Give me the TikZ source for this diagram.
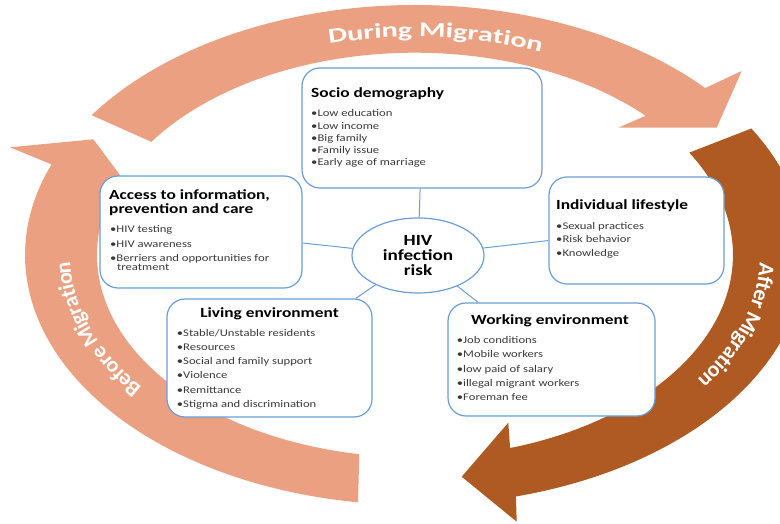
\documentclass[tikz,border=0pt]{standalone}
\usepackage{fontspec}
\setmainfont{Carlito}[FakeStretch=1.24]
\newfontfamily\arcTop{Carlito}[FakeStretch=1.45]
\newfontfamily\arcSide{Carlito}
\usetikzlibrary{shapes.geometric,decorations.text}
\definecolor{salmon}{HTML}{EBA181}
\definecolor{rust}{HTML}{AE5A22}
\definecolor{boxblue}{HTML}{6A9ED6}
\definecolor{itemgray}{HTML}{3A3A3A}
\begin{document}
\begin{tikzpicture}[x=1pt,y=1pt,
 box/.style={draw=boxblue,line width=1.2pt,fill=white,rounded corners=18pt,inner sep=0pt},
 hivnode/.style={ellipse,draw=boxblue,line width=1.2pt,fill=white,inner sep=0pt,minimum width=132pt,minimum height=75pt,align=center,font=\fontsize{15.5}{15}\selectfont\bfseries},
 ttl/.style={font=\fontsize{14}{14}\selectfont\bfseries,text=black,inner sep=0pt,anchor=base west},
 itm/.style={font=\fontsize{10.2}{10.2}\selectfont,text=itemgray,inner sep=0pt,anchor=base west},
 link/.style={draw=boxblue,line width=1pt},
 arctext/.style={decorate,decoration={text along path,text align=center,raise=#1}}]

\useasboundingbox (0,0) rectangle (780,523);
\clip (0,0) rectangle (780,523);

% During Migration (top)
\fill[salmon] ({415+390*cos(146)},{268+250*sin(146)})
  arc[start angle=146,end angle=41.9,x radius=390pt,y radius=250pt]
  -- (741.7,452) -- (716.7,395.3) -- (618.3,395.3)
  -- ({415+318*cos(43.5)},{268+202.3*sin(43.5)})
  arc[start angle=43.5,end angle=146,x radius=318pt,y radius=202.3pt] -- cycle;

% After Migration (right)
\fill[rust] ({415+390*cos(30.4)},{268+250*sin(30.4)})
  arc[start angle=30.4,end angle=-75,x radius=390pt,y radius=250pt]
  -- (516.7,1.3) -- (461.7,46.3) -- (508.3,100.3)
  -- ({415+318*cos(-72.6)},{268+202.3*sin(-72.6)})
  arc[start angle=-72.6,end angle=30.4,x radius=318pt,y radius=202.3pt] -- cycle;

% Before Migration (left)
\fill[salmon] ({415+390*cos(261.6)},{268+250*sin(261.6)})
  arc[start angle=261.6,end angle=158.75,x radius=390pt,y radius=250pt]
  -- (10,375.7) -- (93.3,383.7) -- (150,308)
  -- ({415+318*cos(158)},{268+202.3*sin(158)})
  arc[start angle=158,end angle=259.9,x radius=318pt,y radius=202.3pt] -- cycle;

% arc labels
\path[arctext=-8pt,decoration={text color=white,text={|\arcTop\bfseries\fontsize{21}{21}\selectfont|During Migration}}]
  ({415+354*cos(126.1)},{268+226*sin(126.1)}) arc[start angle=126.1,end angle=46.1,x radius=354pt,y radius=226pt];
\path[arctext=-9pt,decoration={text color=white,text={|\arcSide\bfseries\fontsize{22}{22}\selectfont|After Migration}}]
  ({415+354*cos(24)},{268+226*sin(24)}) arc[start angle=24,end angle=-56,x radius=354pt,y radius=226pt];
\path[arctext=-9pt,decoration={text color=white,text={|\arcSide\bfseries\fontsize{22}{22}\selectfont|Before Migration}}]
  ({415+354*cos(238)},{268+226*sin(238)}) arc[start angle=238,end angle=156,x radius=354pt,y radius=226pt];

% boxes
\node[box,minimum width=240pt,minimum height=120pt] (socio) at (422,395) {};
\node[box,minimum width=202pt,minimum height=112pt] (access) at (201,291) {};
\node[box,minimum width=175pt,minimum height=107pt] (indiv) at (636.5,292.5) {};
\node[box,minimum width=205pt,minimum height=118pt] (living) at (269.5,165) {};
\node[box,minimum width=207pt,minimum height=113pt] (working) at (551.5,163.5) {};
\node[hivnode] (hiv) at (418,267.5) {HIV\\infection\\risk};

% connectors
\draw[link] (hiv) -- (socio);
\draw[link] (hiv) -- (access);
\draw[link] (hiv) -- (indiv);
\draw[link] (hiv) -- (living);
\draw[link] (hiv) -- (working);

% Socio demography
\node[ttl] (sT) at (311,425.5) {Socio demography};
\foreach \n/\yy/\tx in {1/406.5/Low education,2/393/Low income,3/381/Big family,4/369/Family issue,5/357/Early age of marriage}
  \node[itm] (s\n) at (311,\yy) {•\tx};

% Access
\node[ttl] (aT1) at (109,323.5) {Access to information,};
\node[ttl] (aT2) at (109,309.5) {prevention and care};
\foreach \n/\yy/\tx in {1/290/HIV testing,2/275.5/HIV awareness,3/261.5/Berriers and opportunities for}
  \node[itm] (a\n) at (110,\yy) {•\tx};
\node[itm] (a4) at (117,252.5) {treatment};

% Individual lifestyle
\node[ttl] (iT) at (556,313.5) {Individual lifestyle};
\foreach \n/\yy/\tx in {1/293.5/Sexual practices,2/280/Risk behavior,3/266/Knowledge}
  \node[itm] (i\n) at (556,\yy) {•\tx};

% Living environment
\node[ttl,anchor=base] (lT) at (269.5,205) {Living environment};
\foreach \n/\yy/\tx in {1/186.5/{Stable/Unstable residents},2/172.5/Resources,3/158.2/Social and family support,4/144/Violence,5/130/Remittance,6/116/Stigma and discrimination}
  \node[itm] (l\n) at (176.7,\yy) {•\tx};

% Working environment
\node[ttl,anchor=base] (wT) at (550,198) {Working environment};
\foreach \n/\yy/\tx in {1/179.3/Job conditions,2/165.3/Mobile workers,3/150.7/low paid of salary,4/136.7/illegal migrant workers,5/122.7/Foreman fee}
  \node[itm] (w\n) at (456.7,\yy) {•\tx};
\end{tikzpicture}
\end{document}
